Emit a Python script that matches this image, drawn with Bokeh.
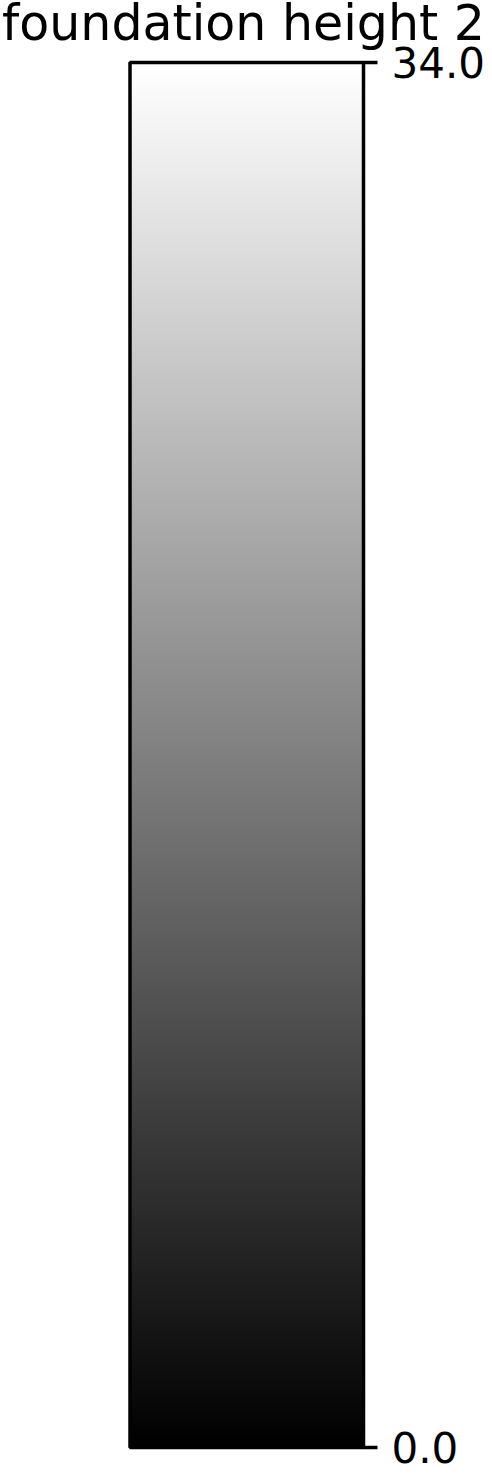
import numpy as np
from bokeh.plotting import figure
from bokeh.models import LinearColorMapper, Range1d, BoxAnnotation, ColumnDataSource
from bokeh.core.properties import value
from bokeh.palettes import Greys256
from bokeh.embed import file_html
from bokeh.resources import INLINE

# ---- data ----
title_text = "foundation height 2"
value_low = 0.0
value_high = 34.0
tick_values = [0.0, 34.0]
tick_labels = ["%.1f" % t for t in tick_values]

# ---- layout (pixels) ----
W, H = 492, 1474
BAR_LEFT_PX, BAR_RIGHT_PX = 129.5, 363.0
BAR_TOP_PX, BAR_BOTTOM_PX = 62.0, 1447.0
TICK_LEN_PX = 14
LABEL_GAP_PX = 14
TITLE_MIDDLE_PX = 22.7
TITLE_CENTER_PX = 243.0

px_per_x = BAR_RIGHT_PX - BAR_LEFT_PX
x_start = -BAR_LEFT_PX / px_per_x
x_end = x_start + W / px_per_x

px_per_v = (BAR_BOTTOM_PX - BAR_TOP_PX) / (value_high - value_low)
y_start = value_low - (H - BAR_BOTTOM_PX) / px_per_v
y_end = value_high + BAR_TOP_PX / px_per_v

mapper = LinearColorMapper(palette=Greys256, low=value_low, high=value_high)

p = figure(width=W, height=H, output_backend="svg", toolbar_location=None,
           x_range=Range1d(x_start, x_end), y_range=Range1d(y_start, y_end),
           min_border_left=0, min_border_right=0, min_border_top=0, min_border_bottom=0,
           x_axis_location=None, y_axis_location=None)
p.grid.visible = False
p.background_fill_color = "white"
p.border_fill_color = "white"
p.outline_line_color = None

# gradient bar
grad = np.linspace(value_low, value_high, 512).reshape(512, 1)
p.image(image=[grad], x=0, y=value_low, dw=1, dh=value_high - value_low, color_mapper=mapper)

# bar border
border = BoxAnnotation(left=0, right=1, bottom=value_low, top=value_high,
                       fill_color=None, fill_alpha=0, line_color="black",
                       line_alpha=1.0, line_width=3.5)
p.add_layout(border)

# ticks and tick labels
tick_end = 1 + TICK_LEN_PX / px_per_x
ticks = ColumnDataSource(dict(y=tick_values, label=tick_labels,
                              x0=[1] * len(tick_values), x1=[tick_end] * len(tick_values)))
p.segment(x0="x0", y0="y", x1="x1", y1="y", source=ticks, line_color="black", line_width=3.5)
p.text(x="x1", y="y", text="label", source=ticks, x_offset=LABEL_GAP_PX,
       text_font=value("DejaVu Sans"), text_font_size=value("42px"), text_color="black",
       text_align="left", text_baseline="middle")

# title
title_x = x_start + TITLE_CENTER_PX / px_per_x
title_y = value_high + (BAR_TOP_PX - TITLE_MIDDLE_PX) / px_per_v
p.text(x=[title_x], y=[title_y], text=[title_text],
       text_font=value("DejaVu Sans"), text_font_size=value("49px"), text_color="black",
       text_align="center", text_baseline="middle")

open("out.html", "w").write(file_html(p, INLINE))
